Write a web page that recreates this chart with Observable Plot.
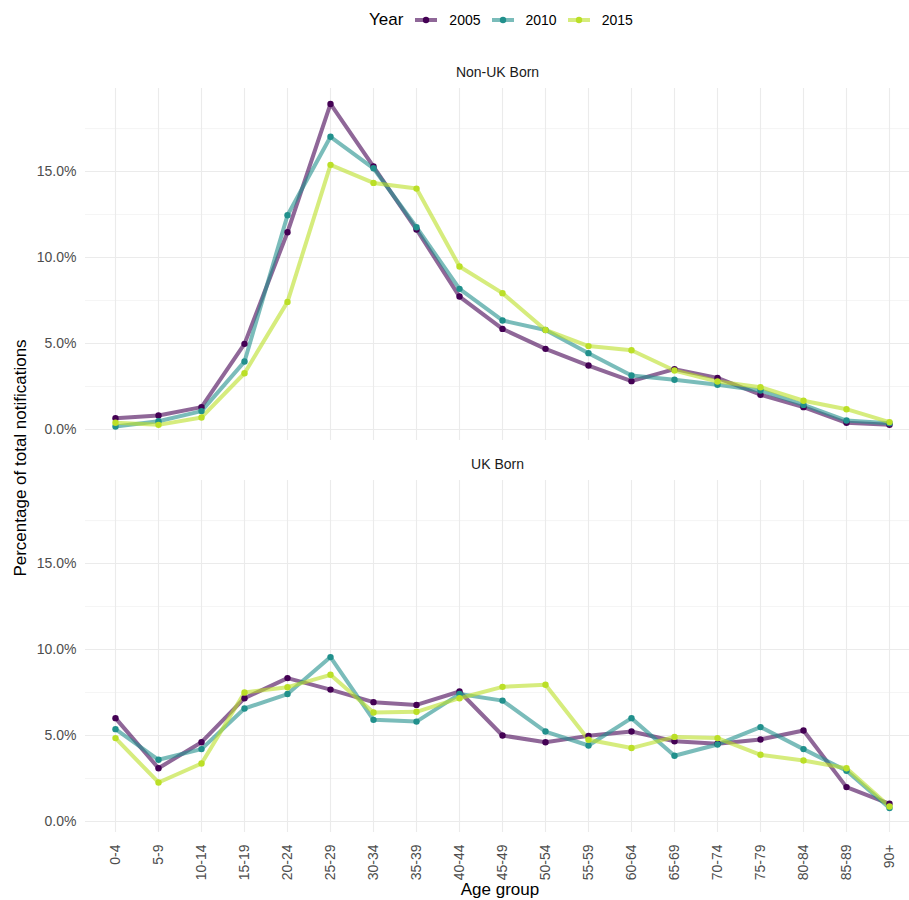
<!DOCTYPE html>
<html>
<head>
<meta charset="utf-8">
<script src="https://cdn.jsdelivr.net/npm/d3@7"></script>
<script src="https://cdn.jsdelivr.net/npm/@observablehq/plot@0.6"></script>
<style>
  html, body { margin: 0; padding: 0; background: #fff; }
  body { width: 909px; height: 900px; overflow: hidden; font-family: "Liberation Sans", Arial, sans-serif; position: relative; }
  #legend { position: absolute; left: 369px; top: 0; height: 40px; display: flex; align-items: center; white-space: nowrap; }
  #legend .title { font-size: 17px; color: #000; margin-right: 12px; }
  #legend .item { display: flex; align-items: center; margin-right: 11px; }
  #legend .item span { font-size: 14px; color: #000; margin-left: 12px; }
  #chart { position: absolute; left: 0; top: 40px; }
</style>
</head>
<body>
<div id="legend"></div>
<div id="chart"></div>
<script>
const ageGroups = ["0-4","5-9","10-14","15-19","20-24","25-29","30-34","35-39","40-44","45-49","50-54","55-59","60-64","65-69","70-74","75-79","80-84","85-89","90+"];
const years = ["2005", "2010", "2015"];
const panels = ["Non-UK Born", "UK Born"];
const yearColors = ["#440154", "#21908C", "#BBDF27"];
const yTicks = [0, 5, 10, 15];
const yMinorTicks = [2.5, 7.5, 12.5, 17.5];

// Percentage of total notifications (%)
const nonUK2005 = [0.66, 0.81, 1.30, 4.98, 11.47, 18.93, 15.29, 11.63, 7.73, 5.85, 4.69, 3.72, 2.81, 3.51, 3.00, 2.02, 1.30, 0.39, 0.27];
const nonUK2010 = [0.17, 0.48, 1.07, 3.95, 12.46, 17.02, 15.19, 11.76, 8.18, 6.34, 5.79, 4.44, 3.14, 2.89, 2.60, 2.27, 1.43, 0.52, 0.37];
const nonUK2015 = [0.39, 0.27, 0.70, 3.27, 7.42, 15.39, 14.34, 14.01, 9.48, 7.93, 5.79, 4.85, 4.61, 3.43, 2.79, 2.46, 1.67, 1.18, 0.43];
const uk2005 = [6.01, 3.10, 4.61, 7.17, 8.34, 7.67, 6.94, 6.78, 7.56, 5.00, 4.61, 4.98, 5.23, 4.67, 4.52, 4.77, 5.29, 2.00, 1.03];
const uk2010 = [5.37, 3.59, 4.21, 6.57, 7.41, 9.56, 5.91, 5.81, 7.41, 7.03, 5.23, 4.42, 6.01, 3.82, 4.48, 5.49, 4.21, 2.95, 0.78];
const uk2015 = [4.85, 2.27, 3.37, 7.50, 7.81, 8.53, 6.34, 6.38, 7.17, 7.83, 7.95, 4.75, 4.27, 4.92, 4.85, 3.88, 3.55, 3.10, 0.87];

const series = [
  [panels[0], years[0], nonUK2005], [panels[0], years[1], nonUK2010], [panels[0], years[2], nonUK2015],
  [panels[1], years[0], uk2005], [panels[1], years[1], uk2010], [panels[1], years[2], uk2015]
];
const rows = [];
for (const [panel, year, vals] of series) {
  vals.forEach((v, i) => rows.push({panel, year, age: ageGroups[i], value: v}));
}

const font = "'Liberation Sans', Arial, sans-serif";

const chart = Plot.plot({
  width: 909,
  height: 860,
  marginTop: 48,
  marginBottom: 67,
  marginLeft: 85,
  marginRight: 0,
  style: {fontFamily: font, background: "#fff", overflow: "visible"},
  x: {type: "point", domain: ageGroups, range: [110.7, 892.7], padding: 0},
  y: {domain: [-0.64, 19.83]},
  fy: {domain: panels, axis: null, paddingInner: 0.102, paddingOuter: 0},
  color: {domain: years, range: yearColors},
  marks: [
    Plot.gridY(yMinorTicks, {stroke: "#EBEBEB", strokeOpacity: 1, strokeWidth: 0.55}),
    Plot.gridY(yTicks, {stroke: "#EBEBEB", strokeOpacity: 1, strokeWidth: 1.1}),
    Plot.gridX(ageGroups, {stroke: "#EBEBEB", strokeOpacity: 1, strokeWidth: 1.1}),
    Plot.axisY(yTicks, {tickSize: 0, tickPadding: 9, tickFormat: d => d.toFixed(1) + "%", fontSize: 14, fill: "#4D4D4D", label: null}),
    Plot.axisX({tickSize: 0, tickPadding: 12, tickRotate: -90, fontSize: 14, fill: "#4D4D4D", label: null}),
    Plot.line(rows, {x: "age", y: "value", fy: "panel", z: "year", stroke: "year", strokeWidth: 4, strokeOpacity: 0.6, curve: "linear"}),
    Plot.dot(rows, {x: "age", y: "value", fy: "panel", fill: "year", r: 3.2, stroke: "none"}),
    Plot.text(panels, {fy: d => d, text: d => d, frameAnchor: "top", dy: -21, fontSize: 14, fill: "#1A1A1A"})
  ]
});
document.getElementById("chart").appendChild(chart);

// axis titles
const svg = d3.select(chart.tagName.toLowerCase() === "svg" ? chart : chart.querySelector("svg"));
svg.append("text")
  .attr("transform", "translate(22,418) rotate(-90)")
  .attr("text-anchor", "middle").attr("dominant-baseline", "middle")
  .attr("font-size", 17).attr("fill", "#000").attr("font-family", font)
  .text("Percentage of total notifications");
svg.append("text")
  .attr("x", 500).attr("y", 851)
  .attr("text-anchor", "middle").attr("dominant-baseline", "middle")
  .attr("font-size", 17).attr("fill", "#000").attr("font-family", font)
  .text("Age group");

// legend
const legend = d3.select("#legend");
legend.append("div").attr("class", "title").text("Year");
years.forEach((y, i) => {
  const item = legend.append("div").attr("class", "item");
  const s = item.append("svg").attr("width", 22).attr("height", 14);
  s.append("line").attr("x1", 0).attr("x2", 22).attr("y1", 7).attr("y2", 7)
    .attr("stroke", yearColors[i]).attr("stroke-width", 4).attr("stroke-opacity", 0.6);
  s.append("circle").attr("cx", 11).attr("cy", 7).attr("r", 3.2).attr("fill", yearColors[i]);
  item.append("span").text(y);
});
</script>
</body>
</html>
